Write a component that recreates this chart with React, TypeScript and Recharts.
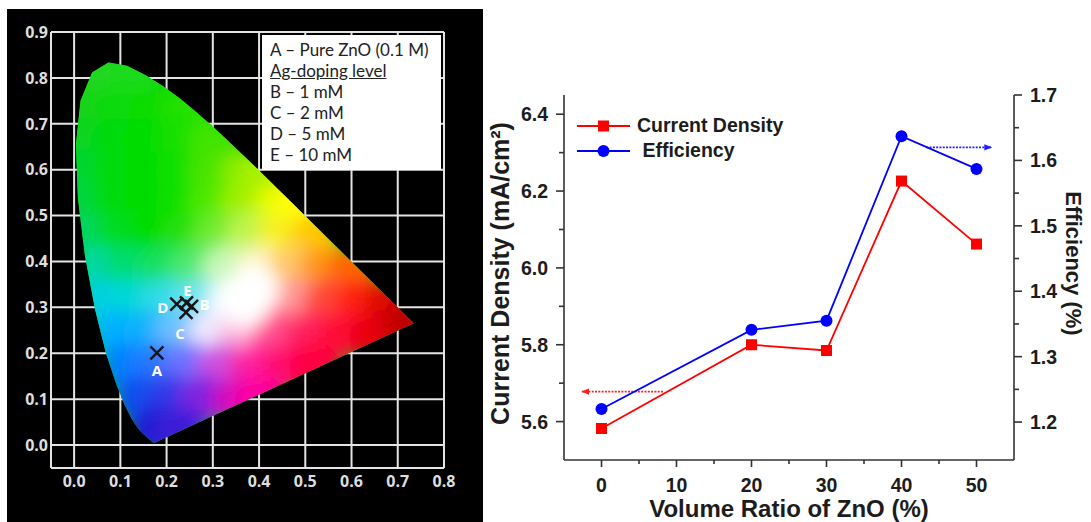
import React from 'react';
import {
  ScatterChart,
  Scatter,
  XAxis,
  YAxis,
  CartesianGrid,
  ComposedChart,
  Line,
  ReferenceLine,
} from 'recharts';

// CIE 1931 spectral locus, 380 - 700 nm
const locusX = [0.1741, 0.1733, 0.1714, 0.1689, 0.1644, 0.1566, 0.144, 0.1355, 0.1241, 0.1096, 0.0913, 0.0687, 0.0454, 0.0235, 0.0082, 0.0039, 0.0139, 0.0389, 0.0743, 0.1142, 0.1547, 0.1929, 0.2296, 0.2658, 0.3016, 0.3373, 0.3731, 0.4087, 0.4441, 0.4788, 0.5125, 0.5448, 0.5752, 0.6029, 0.627, 0.6658, 0.6915, 0.7079, 0.719, 0.726, 0.7334, 0.7347];
const locusY = [0.005, 0.0048, 0.0051, 0.0069, 0.0109, 0.0177, 0.0297, 0.0399, 0.0578, 0.0868, 0.1327, 0.2007, 0.295, 0.4127, 0.5384, 0.6548, 0.7502, 0.812, 0.8338, 0.8262, 0.8059, 0.7816, 0.7543, 0.7243, 0.6923, 0.6589, 0.6245, 0.5896, 0.5547, 0.5202, 0.4866, 0.4544, 0.4242, 0.3965, 0.3725, 0.334, 0.3083, 0.292, 0.2809, 0.274, 0.2666, 0.2653];

// colours seen across the diagram, row by row (chromaticity x, y)
const tintX = [
  0.06, 0.13,
  0.03, 0.1, 0.17, 0.24,
  0.02, 0.09, 0.16, 0.23, 0.3,
  0.02, 0.09, 0.16, 0.23, 0.3, 0.37, 0.41,
  0.02, 0.09, 0.16, 0.23, 0.3, 0.37, 0.44, 0.48,
  0.03, 0.1, 0.17, 0.24, 0.31, 0.38, 0.45, 0.52,
  0.05, 0.12, 0.19, 0.26, 0.33, 0.4, 0.47, 0.54, 0.6,
  0.06, 0.13, 0.2, 0.27, 0.34, 0.41, 0.48, 0.55, 0.62, 0.68,
  0.09, 0.16, 0.23, 0.3, 0.37, 0.44, 0.51, 0.58, 0.65, 0.72,
  0.11, 0.18, 0.25, 0.32, 0.39, 0.46, 0.52,
  0.14, 0.21, 0.28, 0.35, 0.4,
  0.17, 0.23,
  0.37, 0.39,
];
const tintY = [
  0.8, 0.8,
  0.73, 0.73, 0.73, 0.73,
  0.66, 0.66, 0.66, 0.66, 0.66,
  0.59, 0.59, 0.59, 0.59, 0.59, 0.59, 0.59,
  0.52, 0.52, 0.52, 0.52, 0.52, 0.52, 0.52, 0.52,
  0.45, 0.45, 0.45, 0.45, 0.45, 0.45, 0.45, 0.45,
  0.38, 0.38, 0.38, 0.38, 0.38, 0.38, 0.38, 0.38, 0.38,
  0.31, 0.31, 0.31, 0.31, 0.31, 0.31, 0.31, 0.31, 0.31, 0.31,
  0.24, 0.24, 0.24, 0.24, 0.24, 0.24, 0.24, 0.24, 0.24, 0.27,
  0.17, 0.17, 0.17, 0.17, 0.17, 0.17, 0.17,
  0.1, 0.1, 0.1, 0.1, 0.1,
  0.03, 0.03,
  0.31, 0.34,
];
const tintHex = [
  '#24d824', '#1cda1c',
  '#12d418', '#10da10', '#08dc04', '#20e000',
  '#08d420', '#04da08', '#00dc00', '#18e000', '#40e400',
  '#00d430', '#00da08', '#00dc00', '#10e000', '#48e400', '#88ec00', '#a8f000',
  '#00d440', '#00da10', '#00dc00', '#10e000', '#50e800', '#a0f000', '#e0fa00', '#ffff00',
  '#00d660', '#00dc20', '#00dc00', '#28e010', '#70ea30', '#c0f450', '#f8f020', '#ffc800',
  '#00d8a0', '#00dc70', '#18e060', '#50e870', '#c8f8b8', '#fff4c0', '#ffc868', '#ff9818', '#ff6800',
  '#00d0e0', '#00d8d8', '#30dce8', '#70e4f0', '#f4fcff', '#fff2f2', '#ff9898', '#ff4838', '#ff2010', '#e00c00',
  '#00b0ff', '#10b0ff', '#70c0ff', '#f0e8ff', '#ffb0d8', '#ff5090', '#ff2060', '#ff0838', '#e80010', '#c00000',
  '#0080ff', '#2878ff', '#7070ff', '#d050e0', '#ff20a0', '#ff0870', '#ff0040',
  '#1050f0', '#3038e8', '#8020e0', '#d010c0', '#ff00a0',
  '#1c1cd4', '#3c1cd8',
  '#ffffff', '#ffffff',
];

// sample chromaticities
const sampleName = ['A', 'B', 'C', 'D', 'E'];
const sampleX = [0.179, 0.254, 0.242, 0.222, 0.243];
const sampleY = [0.201, 0.302, 0.289, 0.307, 0.31];

const cieTicksX = [0, 0.1, 0.2, 0.3, 0.4, 0.5, 0.6, 0.7, 0.8];
const cieTicksY = [0, 0.1, 0.2, 0.3, 0.4, 0.5, 0.6, 0.7, 0.8, 0.9];

const legendRows = ['A – Pure ZnO (0.1 M)', 'Ag-doping level', 'B – 1 mM', 'C – 2 mM', 'D – 5 mM', 'E – 10 mM'];

// right panel
const ratio = [0, 20, 30, 40, 50];
const currentDensity = [5.582, 5.8, 5.785, 6.226, 6.062];
const efficiency = [1.22, 1.341, 1.355, 1.637, 1.587];
const ratioTicks = [0, 5, 10, 15, 20, 25, 30, 35, 40, 45, 50];
const currentTicks = [5.6, 5.7, 5.8, 5.9, 6.0, 6.1, 6.2, 6.3, 6.4];
const effTicks = [1.2, 1.25, 1.3, 1.35, 1.4, 1.45, 1.5, 1.55, 1.6, 1.65, 1.7];

// axis-pointer arrows (x from, x to, y)
const currentArrow = [8.2, -2.6, 5.678];
const effArrow = [43.3, 52, 1.62];

const locusData = locusX.map((x, i) => ({ x, y: locusY[i] }));
const tintData = tintX.map((x, i) => ({ x, y: tintY[i], color: tintHex[i] }));
const sampleData = sampleName.map((name, i) => ({ name, x: sampleX[i], y: sampleY[i] }));
const perfData = ratio.map((r, i) => ({ ratio: r, current: currentDensity[i], efficiency: efficiency[i] }));

const labelShift: Record<string, [number, number]> = {
  A: [0, 17],
  B: [13, -2],
  C: [-6, 21],
  D: [-14, 3],
  E: [1, -13],
};

const ARIAL = '"Liberation Sans", Arial, sans-serif';
const INK = '#1c1c1c';
const CIE_FONT = '"Open Sans", Lato, sans-serif';

function LocusShape(props: any) {
  const pts = props.points || [];
  const d = pts.map((p: any, i: number) => `${i ? 'L' : 'M'}${p.x},${p.y}`).join('') + 'Z';
  return (
    <g>
      <defs>
        <clipPath id="cie-clip">
          <path d={d} />
        </clipPath>
        <filter id="cie-blur" x="-30%" y="-30%" width="160%" height="160%">
          <feGaussianBlur stdDeviation="9" />
        </filter>
      </defs>
      <path d={d} fill="#06d606" />
    </g>
  );
}

function TintBlob(props: any) {
  const { cx, cy, payload } = props;
  return <circle cx={cx} cy={cy} r={25} fill={payload.color} />;
}

function SampleMark(props: any) {
  const { cx, cy, payload } = props;
  const [dx, dy] = labelShift[payload.name];
  const s = 6.5;
  return (
    <g>
      <path
        d={`M${cx - s},${cy - s}L${cx + s},${cy + s}M${cx - s},${cy + s}L${cx + s},${cy - s}`}
        stroke="#151515"
        strokeWidth={2.4}
      />
      <text
        x={cx + dx}
        y={cy + dy}
        textAnchor="middle"
        dominantBaseline="central"
        fill="#fff"
        fontSize={15}
        fontWeight={700}
        fontFamily={CIE_FONT}
      >
        {payload.name}
      </text>
    </g>
  );
}

const cieTickText = { fill: '#dedede', fontSize: 16, fontWeight: 700, fontFamily: CIE_FONT };

function CieXTick({ x, y, payload }: any) {
  return (
    <text x={x} y={y + 19} textAnchor="middle" {...cieTickText}>
      {payload.value.toFixed(1)}
    </text>
  );
}

function CieYTick({ x, y, payload }: any) {
  return (
    <text x={x - 3} y={y} dy="0.36em" textAnchor="end" {...cieTickText}>
      {payload.value.toFixed(1)}
    </text>
  );
}

function CieChart() {
  return (
    <div style={{ position: 'absolute', left: 7, top: 9, width: 476, height: 513, background: '#000' }}>
      <ScatterChart width={476} height={513} margin={{ top: 23, right: 39, bottom: 24, left: 4 }}>
        <CartesianGrid stroke="#e4e4e4" strokeWidth={2} />
        <XAxis
          type="number"
          dataKey="x"
          domain={[-0.05, 0.8]}
          ticks={cieTicksX}
          interval={0}
          tick={(p: any) => <CieXTick {...p} />}
          tickLine={false}
          tickSize={0}
          tickMargin={0}
          axisLine={{ stroke: '#e4e4e4', strokeWidth: 2 }}
          height={30}
        />
        <YAxis
          type="number"
          dataKey="y"
          domain={[-0.05, 0.9]}
          ticks={cieTicksY}
          interval={0}
          tick={(p: any) => <CieYTick {...p} />}
          tickLine={false}
          tickSize={0}
          tickMargin={0}
          axisLine={{ stroke: '#e4e4e4', strokeWidth: 2 }}
          width={40}
        />
        <Scatter data={locusData} shape={() => <g />} line={LocusShape} isAnimationActive={false} />
        <Scatter data={tintData} className="cie-tint" shape={TintBlob} isAnimationActive={false} />
        <Scatter data={sampleData} shape={SampleMark} isAnimationActive={false} />
      </ScatterChart>
      <div
        style={{
          position: 'absolute',
          left: 255,
          top: 26,
          width: 179,
          height: 135,
          background: '#fff',
          boxSizing: 'border-box',
          padding: '4px 0 0 8px',
          fontFamily: 'Lato, sans-serif',
          fontSize: 17,
          lineHeight: '21px',
          color: '#222',
        }}
      >
        {legendRows.map((row, i) => (
          <div key={row} style={{ textDecoration: i === 1 ? 'underline' : 'none', whiteSpace: 'nowrap' }}>
            {row}
          </div>
        ))}
      </div>
    </div>
  );
}

const tickText = { fontFamily: ARIAL, fontSize: 19.5, fontWeight: 700, fill: INK };

function BottomTick({ x, y, payload }: any) {
  const major = payload.value % 10 === 0;
  return (
    <g>
      <line x1={x} y1={y} x2={x} y2={y + (major ? 7 : 4)} stroke="#333" strokeWidth={1.6} />
      {major && (
        <text x={x} y={y + 32} textAnchor="middle" {...tickText}>
          {payload.value}
        </text>
      )}
    </g>
  );
}

function TopTick({ x, y, payload }: any) {
  const major = payload.value % 10 === 0;
  return <line x1={x} y1={y} x2={x} y2={y + (major ? 7 : 4)} stroke="#333" strokeWidth={1.6} />;
}

function LeftTick({ x, y, payload }: any) {
  const v = payload.value;
  const major = Math.round(v * 10) % 2 === 0;
  return (
    <g>
      <line x1={x} y1={y} x2={x - (major ? 8 : 5)} y2={y} stroke="#333" strokeWidth={1.6} />
      {major && (
        <text x={x - 16} y={y} dy="0.36em" textAnchor="end" {...tickText}>
          {v.toFixed(1)}
        </text>
      )}
    </g>
  );
}

function RightTick({ x, y, payload }: any) {
  const v = payload.value;
  const major = Math.round(v * 100) % 10 === 0;
  return (
    <g>
      <line x1={x} y1={y} x2={x + (major ? 8 : 5)} y2={y} stroke="#333" strokeWidth={1.6} />
      {major && (
        <text x={x + 16} y={y} dy="0.36em" textAnchor="start" {...tickText}>
          {v.toFixed(1)}
        </text>
      )}
    </g>
  );
}

function arrowShape(id: string, color: string) {
  return (p: any) => (
    <g>
      <defs>
        <marker id={id} viewBox="0 0 10 10" refX="9" refY="5" markerWidth="5" markerHeight="5" orient="auto">
          <path d="M0,1L10,5L0,9Z" fill={color} />
        </marker>
      </defs>
      <line
        x1={p.x1}
        y1={p.y1}
        x2={p.x2}
        y2={p.y2}
        stroke={color}
        strokeWidth={1.6}
        strokeDasharray="2 1.3"
        markerEnd={`url(#${id})`}
      />
    </g>
  );
}

// rotated axis title placed from the axis viewBox
function yTitle(text: string, angle: number, dx: number, dy: number, size: number) {
  return (p: any) => {
    const vb = p.viewBox || {};
    const cx = vb.x + dx;
    const cy = vb.y + vb.height / 2 + dy;
    return (
      <text
        x={cx}
        y={cy}
        transform={`rotate(${angle}, ${cx}, ${cy})`}
        textAnchor="middle"
        dominantBaseline="central"
        fontFamily={ARIAL}
        fontWeight={700}
        fontSize={size}
        fill={INK}
      >
        {text}
      </text>
    );
  };
}

function PerformanceChart() {
  const axisLine = { stroke: '#333', strokeWidth: 1.6 };
  return (
    <div style={{ position: 'absolute', left: 483, top: 0, width: 608, height: 522, background: '#fff' }}>
      <ComposedChart width={608} height={522} data={perfData} margin={{ top: 95, right: 0, bottom: 0, left: 0 }}>
        <XAxis
          xAxisId="bottom"
          type="number"
          dataKey="ratio"
          domain={[-5, 55]}
          ticks={ratioTicks}
          interval={0}
          height={62}
          tickSize={0}
          tickMargin={0}
          tickLine={false}
          axisLine={axisLine}
          tick={(p: any) => <BottomTick {...p} />}
          label={{
            value: 'Volume Ratio of ZnO (%)',
            position: 'insideBottom',
            offset: 5,
            style: { fontFamily: ARIAL, fontWeight: 700, fill: INK, fontSize: 24 },
          }}
        />
        <XAxis
          xAxisId="top"
          orientation="top"
          type="number"
          dataKey="ratio"
          domain={[-5, 55]}
          ticks={ratioTicks}
          interval={0}
          height={0}
          tickSize={0}
          tickMargin={0}
          tickLine={false}
          axisLine={axisLine}
          tick={(p: any) => <TopTick {...p} />}
        />
        <YAxis
          yAxisId="left"
          type="number"
          domain={[5.5, 6.45]}
          ticks={currentTicks}
          interval={0}
          width={81}
          tickSize={0}
          tickMargin={0}
          tickLine={false}
          axisLine={axisLine}
          tick={(p: any) => <LeftTick {...p} />}
          label={yTitle('Current Density (mA/cm²)', -90, 17, -4, 25)}
        />
        <YAxis
          yAxisId="right"
          orientation="right"
          type="number"
          domain={[1.142, 1.7]}
          ticks={effTicks}
          interval={0}
          width={77}
          tickSize={0}
          tickMargin={0}
          tickLine={false}
          axisLine={axisLine}
          tick={(p: any) => <RightTick {...p} />}
          label={yTitle('Efficiency (%)', 90, 59, -14, 22)}
        />
        <ReferenceLine
          xAxisId="bottom"
          yAxisId="left"
          segment={[
            { x: currentArrow[0], y: currentArrow[2] },
            { x: currentArrow[1], y: currentArrow[2] },
          ]}
          shape={arrowShape('arrow-red', '#ff2020')}
        />
        <ReferenceLine
          xAxisId="bottom"
          yAxisId="right"
          segment={[
            { x: effArrow[0], y: effArrow[2] },
            { x: effArrow[1], y: effArrow[2] },
          ]}
          shape={arrowShape('arrow-blue', '#2020ff')}
        />
        <Line
          xAxisId="bottom"
          yAxisId="left"
          type="linear"
          dataKey="current"
          stroke="#ff0000"
          strokeWidth={1.8}
          dot={(p: any) => <rect key={`c${p.index}`} x={p.cx - 5.5} y={p.cy - 5.5} width={11} height={11} fill="#ff0000" />}
          activeDot={false}
          isAnimationActive={false}
        />
        <Line
          xAxisId="bottom"
          yAxisId="right"
          type="linear"
          dataKey="efficiency"
          stroke="#0000ff"
          strokeWidth={1.8}
          dot={(p: any) => <circle key={`e${p.index}`} cx={p.cx} cy={p.cy} r={6} fill="#0000ff" />}
          activeDot={false}
          isAnimationActive={false}
        />
      </ComposedChart>
      <div style={{ position: 'absolute', left: 94, top: 113, fontFamily: ARIAL, fontSize: 19.5, fontWeight: 700, color: INK }}>
        {[
          { text: 'Current Density', color: '#ff0000', square: true },
          { text: '\u00a0Efficiency', color: '#0000ff', square: false },
        ].map((row) => (
          <div key={row.text} style={{ display: 'flex', alignItems: 'center', height: 25 }}>
            <svg width={60} height={14}>
              <line x1={0} y1={7} x2={53} y2={7} stroke={row.color} strokeWidth={1.8} />
              {row.square ? (
                <rect x={21} y={1.5} width={11} height={11} fill={row.color} />
              ) : (
                <circle cx={26.5} cy={7} r={6} fill={row.color} />
              )}
            </svg>
            <span style={{ whiteSpace: 'pre' }}>{row.text}</span>
          </div>
        ))}
      </div>
    </div>
  );
}

export default function App() {
  return (
    <div style={{ position: 'relative', width: 1091, height: 522, background: '#fff', overflow: 'hidden' }}>
      <style>{'body{margin:0}.cie-tint{filter:url(#cie-blur);clip-path:url(#cie-clip);}'}</style>
      <CieChart />
      <PerformanceChart />
    </div>
  );
}
